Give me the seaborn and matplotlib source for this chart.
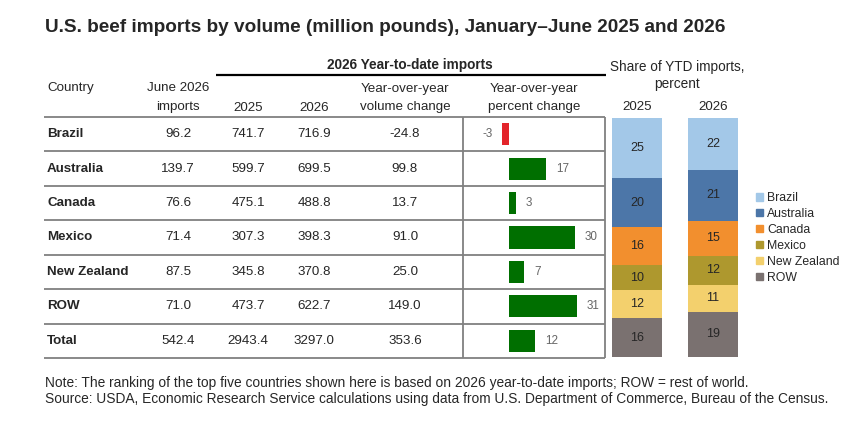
import matplotlib as mpl
mpl.use('agg')
import matplotlib.pyplot as plt
import numpy as np
import pandas as pd
import seaborn as sns

# table data (million pounds)
countries = ['Brazil', 'Australia', 'Canada', 'Mexico', 'New Zealand', 'ROW', 'Total']
june_2026 = [96.2, 139.7, 76.6, 71.4, 87.5, 71.0, 542.4]
ytd_2025 = [741.7, 599.7, 475.1, 307.3, 345.8, 473.7, 2943.4]
ytd_2026 = [716.9, 699.5, 488.8, 398.3, 370.8, 622.7, 3297.0]
vol_change = [-24.8, 99.8, 13.7, 91.0, 25.0, 149.0, 353.6]
pct_change = [-3, 17, 3, 30, 7, 31, 12]

# share of YTD imports, percent
share_names = ['Brazil', 'Australia', 'Canada', 'Mexico', 'New Zealand', 'ROW']
share_years = ['2025', '2026']
share_2025 = [25.2, 20.4, 16.1, 10.4, 11.7, 16.1]
share_2026 = [21.7, 21.2, 14.8, 12.1, 11.2, 18.9]
share_colors = ['#A3C8E8', '#4C76A8', '#F28F2E', '#AE982E', '#F3D06D', '#7A7170']

sns.set_style('white')
plt.rcParams['font.family'] = ['Liberation Sans', 'DejaVu Sans']

W, H = 865, 424
fig = plt.figure(figsize=(W / 100, H / 100), dpi=100)


def px_axes(x0, y0, x1, y1):
    a = fig.add_axes([x0 / W, 1 - y1 / H, (x1 - x0) / W, (y1 - y0) / H])
    a.set_facecolor('none')
    return a


# base layer in pixel coordinates
ax = fig.add_axes([0, 0, 1, 1])
ax.set_xlim(0, W)
ax.set_ylim(H, 0)
ax.axis('off')

ax.text(45, 28, 'U.S. beef imports by volume (million pounds), January\u2013June 2025 and 2026',
        fontsize=13.7, fontweight='bold', va='center', ha='left')

# headers
ax.text(410, 65, '2026 Year-to-date imports', fontsize=9.8, fontweight='bold', ha='center', va='center')
ax.plot([216, 606], [75, 75], color='black', lw=1.6, solid_capstyle='butt')
hdr = dict(fontsize=9.6, ha='center', va='center')
ax.text(47, 88, 'Country', fontsize=9.6, ha='left', va='center')
ax.text(178, 88, 'June 2026', **hdr)
ax.text(178, 107, 'imports', **hdr)
ax.text(248, 108, '2025', **hdr)
ax.text(314, 108, '2026', **hdr)
ax.text(405, 89, 'Year-over-year', **hdr)
ax.text(405, 107, 'volume change', **hdr)
ax.text(534, 89, 'Year-over-year', **hdr)
ax.text(534, 107, 'percent change', **hdr)

# table grid
top, bottom = 117, 358
row_h = (bottom - top) / len(countries)
grid_c = '#808080'
for i in range(len(countries) + 1):
    y = top + i * row_h
    ax.plot([44, 605], [y, y], color=grid_c, lw=1.3, solid_capstyle='butt')
for x in (463, 605):
    ax.plot([x, x], [top, bottom], color=grid_c, lw=1.3, solid_capstyle='butt')

# table values
col_x = [178, 248, 314, 405]
for i, name in enumerate(countries):
    yc = top + (i + 0.5) * row_h
    ax.text(47, yc, name, fontsize=9.6, fontweight='bold', ha='left', va='center')
    for x, col in zip(col_x, [june_2026, ytd_2025, ytd_2026, vol_change]):
        ax.text(x, yc, f'{col[i]:.1f}', fontsize=9.6, ha='center', va='center')

# percent change bars
pax = px_axes(463, top, 605, bottom)
pdf = pd.DataFrame({'country': countries, 'pct': pct_change})
pdf['sign'] = np.where(pdf['pct'] < 0, 'neg', 'pos')
sns.barplot(data=pdf, x='pct', y='country', hue='sign', palette={'neg': '#E3242B', 'pos': '#006F00'},
            orient='h', width=0.64, dodge=False, legend=False, saturation=1, linewidth=0, ax=pax)
pax.set_xlim((463 - 509) / 2.2, (605 - 509) / 2.2)
pax.set_ylim(len(countries) - 0.5, -0.5)
for i, v in enumerate(pct_change):
    pax.annotate(f'{v}', (v, i), xytext=(7 if v >= 0 else -7, 0), textcoords='offset points',
                 ha='left' if v >= 0 else 'right', va='center', fontsize=8.4, color='#666666')
pax.axis('off')

# share stacked bars
ax.text(677, 67, 'Share of YTD imports,', fontsize=9.8, ha='center', va='center')
ax.text(677, 84, 'percent', fontsize=9.8, ha='center', va='center')
ax.text(637, 107, '2025', fontsize=9.6, ha='center', va='center')
ax.text(713, 107, '2026', fontsize=9.6, ha='center', va='center')

sdf = pd.DataFrame({'year': np.repeat(share_years, len(share_names)),
                    'name': share_names * 2,
                    'share': share_2025 + share_2026})
sdf['cum'] = sdf.groupby('year')['share'].cumsum()
sax = px_axes(599, 118, 751, 357)
for name, color in reversed(list(zip(share_names, share_colors))):
    sub = sdf[sdf['name'] == name]
    sns.barplot(data=sub, x='year', y='cum', order=share_years, color=color, width=0.66,
                saturation=1, linewidth=0, ax=sax)
for _, r in sdf.iterrows():
    sax.text(share_years.index(r['year']), r['cum'] - r['share'] / 2, f"{r['share']:.0f}",
             ha='center', va='center', fontsize=9, color='#262626')
sax.set_xlim(-0.5, 1.5)
sax.set_ylim(100, 0)
sax.axis('off')

# legend
handles = [mpl.patches.Patch(color=c, label=n) for n, c in zip(share_names, share_colors)]
fig.legend(handles=handles, loc='center left', bbox_to_anchor=(756 / W, 1 - 238 / H), frameon=False,
           fontsize=8.8, handlelength=0.55, handleheight=0.55, handletextpad=0.35, labelspacing=0.32,
           borderaxespad=0, borderpad=0)

# notes
ax.text(45, 383, 'Note: The ranking of the top five countries shown here is based on 2026 year-to-date imports; '
        'ROW = rest of world.', fontsize=9.9, ha='left', va='center')
ax.text(45, 399, 'Source: USDA, Economic Research Service calculations using data from U.S. Department of '
        'Commerce, Bureau of the Census.', fontsize=9.9, ha='left', va='center')

fig.savefig('out.png', dpi=100)
